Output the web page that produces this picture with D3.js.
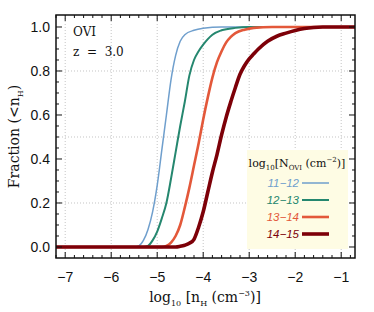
<!DOCTYPE html>
<html>
  <head>
    <meta charset="utf-8">
    <title>OVI fraction</title>
    <script src="https://d3js.org/d3.v7.min.js" charset="utf-8"></script>
    <style>
      html, body { margin: 0; padding: 0; background: #fff; }
      svg { display: block; }
      .tick-label { font-family: "Liberation Sans", Arial, sans-serif; font-size: 14px; fill: #111; }
      .serif { font-family: "DejaVu Serif", "Liberation Serif", serif; fill: #111; }
    </style>
  </head>
  <body>
    <div id="chart"></div>
    <script>
      // data
      var bins = ["11\u221212", "12\u221213", "13\u221214", "14\u221215"];
      var colors = ["#6f9fcd", "#25876f", "#e3583a", "#7d0008"];
      var widths = [1.5, 2, 2.6, 3.6];

      var x1112 = [-7.2, -5.5, -5.4, -5.3, -5.2, -5.1, -5.0, -4.9, -4.8, -4.7, -4.6, -4.5, -4.4, -4.2, -4.0, -3.6, -0.7];
      var y1112 = [0, 0, 0.005, 0.03, 0.08, 0.16, 0.28, 0.44, 0.60, 0.76, 0.87, 0.935, 0.965, 0.985, 0.994, 1.0, 1.0];

      var x1213 = [-7.2, -5.3, -5.2, -5.1, -5.0, -4.9, -4.8, -4.7, -4.6, -4.5, -4.4, -4.3, -4.2, -4.1, -4.0, -3.9, -3.8, -3.6, -3.3, -3.0, -0.7];
      var y1213 = [0, 0, 0.005, 0.03, 0.07, 0.13, 0.20, 0.31, 0.43, 0.55, 0.66, 0.78, 0.85, 0.89, 0.92, 0.945, 0.965, 0.985, 0.996, 1.0, 1.0];

      var x1314 = [-7.2, -4.9, -4.8, -4.7, -4.6, -4.5, -4.4, -4.3, -4.2, -4.1, -4.0, -3.9, -3.8, -3.7, -3.6, -3.5, -3.4, -3.3, -3.1, -2.9, -2.5, -0.7];
      var y1314 = [0, 0, 0.005, 0.02, 0.05, 0.10, 0.18, 0.27, 0.37, 0.47, 0.58, 0.68, 0.77, 0.84, 0.89, 0.93, 0.955, 0.972, 0.988, 0.996, 1.0, 1.0];

      var x1415 = [-7.2, -4.6, -4.5, -4.4, -4.3, -4.2, -4.1, -4.0, -3.9, -3.8, -3.7, -3.6, -3.5, -3.4, -3.3, -3.2, -3.1, -3.0, -2.9, -2.8, -2.6, -2.4, -2.2, -2.0, -1.8, -1.6, -1.4, -0.7];
      var y1415 = [0, 0, 0.003, 0.008, 0.017, 0.035, 0.09, 0.16, 0.25, 0.34, 0.42, 0.51, 0.59, 0.66, 0.725, 0.785, 0.825, 0.855, 0.878, 0.9, 0.935, 0.958, 0.972, 0.984, 0.993, 0.998, 1.0, 1.0];

      var xTicks = [-7, -6, -5, -4, -3, -2, -1];
      var yTicks = [0, 0.2, 0.4, 0.6, 0.8, 1.0];
      var yGrid = [0.2, 0.5, 0.8];

      var seriesX = [x1112, x1213, x1314, x1415];
      var seriesY = [y1112, y1213, y1314, y1415];

      var width = 374, height = 312;
      var pLeft = 56, pRight = 355, pTop = 15, pBottom = 258;

      var x = d3.scaleLinear().domain([-7.2, -0.7]).range([pLeft, pRight]);
      var y = d3.scaleLinear().domain([-0.05, 1.0545]).range([pBottom, pTop]);

      var svg = d3.select("#chart").append("svg")
        .attr("width", width).attr("height", height);

      // dotted grid
      svg.append("g").selectAll("line").data(xTicks).enter().append("line")
        .attr("x1", function(d) { return x(d); }).attr("x2", function(d) { return x(d); })
        .attr("y1", pTop).attr("y2", pBottom)
        .attr("stroke", "#c4c4c4").attr("stroke-width", 1).attr("stroke-dasharray", "1,2");
      svg.append("g").selectAll("line").data(yGrid).enter().append("line")
        .attr("y1", function(d) { return y(d); }).attr("y2", function(d) { return y(d); })
        .attr("x1", pLeft).attr("x2", pRight)
        .attr("stroke", "#c4c4c4").attr("stroke-width", 1).attr("stroke-dasharray", "1,2");

      // curves
      var line = d3.line().curve(d3.curveMonotoneX);
      var plot = svg.append("g");
      seriesX.forEach(function(xs, i) {
        var pts = xs.map(function(v, j) { return [x(v), y(seriesY[i][j])]; });
        plot.append("path")
          .attr("d", line(pts))
          .attr("fill", "none")
          .attr("stroke", colors[i])
          .attr("stroke-width", widths[i]);
      });

      // legend
      var leg = svg.append("g");
      leg.append("rect").attr("x", 247).attr("y", 150).attr("width", 101).attr("height", 99)
        .attr("fill", "#fefce4");
      var lt = leg.append("text").attr("class", "serif").attr("x", 297).attr("y", 167)
        .attr("text-anchor", "middle").attr("font-size", 11);
      lt.append("tspan").text("log");
      lt.append("tspan").attr("font-size", 7).attr("dy", 3).text("10");
      lt.append("tspan").attr("dy", -3).text("[N");
      lt.append("tspan").attr("font-size", 7).attr("dy", 3).text("OVI");
      lt.append("tspan").attr("dy", -3).text(" (cm");
      lt.append("tspan").attr("font-size", 7).attr("dy", -5).text("\u22122");
      lt.append("tspan").attr("dy", 5).text(")]");

      bins.forEach(function(b, i) {
        var yy = 183 + i * 17;
        leg.append("text").attr("x", 299).attr("y", yy + 4)
          .attr("text-anchor", "end")
          .attr("font-family", "Liberation Sans, Arial, sans-serif")
          .attr("font-style", "italic").attr("font-size", 11.5)
          .attr("fill", colors[i]).text(b);
        leg.append("line").attr("x1", 302).attr("x2", 329).attr("y1", yy).attr("y2", yy)
          .attr("stroke", colors[i]).attr("stroke-width", widths[i]);
      });

      // frame
      svg.append("rect").attr("x", pLeft).attr("y", pTop)
        .attr("width", pRight - pLeft).attr("height", pBottom - pTop)
        .attr("fill", "none").attr("stroke", "#111").attr("stroke-width", 1.5);

      // ticks on all sides
      var ticks = svg.append("g").attr("stroke", "#111").attr("stroke-width", 1);
      var xMinor = d3.range(-7.2, -0.69, 0.2).map(function(v) { return +v.toFixed(1); });
      var yMinor = d3.range(0, 1.001, 0.05).map(function(v) { return +v.toFixed(2); });
      xMinor.forEach(function(v) {
        var major = Math.abs(v - Math.round(v)) < 1e-6;
        var len = major ? 6 : 3;
        ticks.append("line").attr("x1", x(v)).attr("x2", x(v)).attr("y1", pBottom).attr("y2", pBottom - len);
        ticks.append("line").attr("x1", x(v)).attr("x2", x(v)).attr("y1", pTop).attr("y2", pTop + len);
      });
      yMinor.forEach(function(v) {
        var major = Math.abs(v * 5 - Math.round(v * 5)) < 1e-6;
        var len = major ? 6 : 3;
        ticks.append("line").attr("y1", y(v)).attr("y2", y(v)).attr("x1", pLeft).attr("x2", pLeft + len);
        ticks.append("line").attr("y1", y(v)).attr("y2", y(v)).attr("x1", pRight).attr("x2", pRight - len);
      });

      // tick labels
      svg.append("g").selectAll("text").data(xTicks).enter().append("text")
        .attr("class", "tick-label")
        .attr("x", function(d) { return x(d); }).attr("y", 282)
        .attr("text-anchor", "middle")
        .text(function(d) { return "\u2212" + Math.abs(d); });
      svg.append("g").selectAll("text").data(yTicks).enter().append("text")
        .attr("class", "tick-label")
        .attr("x", 50).attr("y", function(d) { return y(d) + 5; })
        .attr("text-anchor", "end")
        .text(function(d) { return d3.format(".1f")(d); });

      // axis titles
      var xl = svg.append("text").attr("class", "serif").attr("x", 205).attr("y", 302)
        .attr("text-anchor", "middle").attr("font-size", 14);
      xl.append("tspan").text("log");
      xl.append("tspan").attr("font-size", 8).attr("dy", 4).text("10");
      xl.append("tspan").attr("dy", -4).text(" [n");
      xl.append("tspan").attr("font-size", 8).attr("dy", 4).text("H");
      xl.append("tspan").attr("dy", -4).text(" (cm");
      xl.append("tspan").attr("font-size", 8).attr("dy", -6).text("\u22123");
      xl.append("tspan").attr("dy", 6).text(")]");

      var yl = svg.append("text").attr("class", "serif")
        .attr("transform", "translate(19," + ((pTop + pBottom) / 2) + ") rotate(-90)")
        .attr("text-anchor", "middle").attr("font-size", 14);
      yl.append("tspan").text("Fraction (<n");
      yl.append("tspan").attr("font-size", 8).attr("dy", 4).text("H");
      yl.append("tspan").attr("dy", -4).text(")");

      // annotations
      svg.append("text").attr("class", "serif").attr("x", 73).attr("y", 36)
        .attr("font-size", 12).text("OVI");
      svg.append("text").attr("class", "serif").attr("x", 73).attr("y", 56)
        .attr("font-size", 12).attr("xml:space", "preserve").text("z  =  3.0");
    </script>
  </body>
</html>
